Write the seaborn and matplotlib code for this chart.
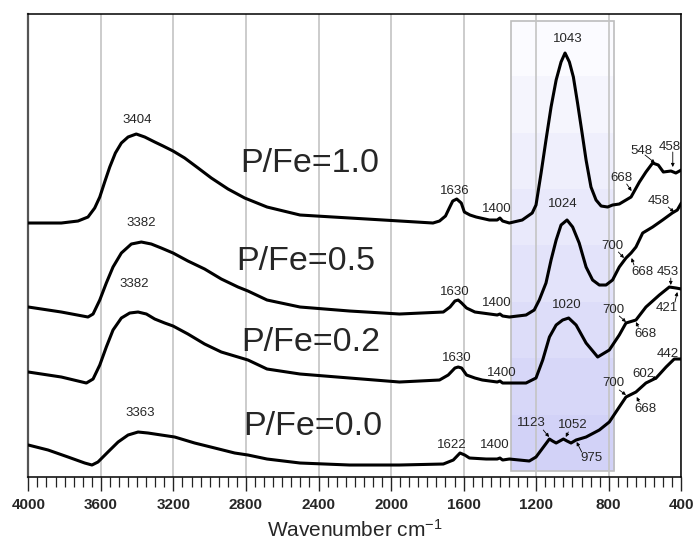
import numpy as np
import pandas as pd
import matplotlib
matplotlib.use("Agg")
import matplotlib.pyplot as plt
import matplotlib.patches as mpatches
import seaborn as sns

# ---------------- data ----------------
series_names = ["P/Fe=1.0", "P/Fe=0.5", "P/Fe=0.2", "P/Fe=0.0"]

wn_10 = [4000, 3818, 3726, 3671, 3634, 3606, 3579, 3551, 3520, 3487,
         3450, 3405, 3358, 3303, 3257, 3202, 3138, 3064, 2991, 2899,
         2807, 2684, 2502, 2320, 2134, 1951, 1769, 1733, 1700, 1679,
         1660, 1638, 1613, 1596, 1565, 1531, 1458, 1415, 1400, 1385,
         1348, 1277, 1222, 1201, 1194, 1173, 1146, 1118, 1090, 1063,
         1041, 1017, 995, 972, 947, 925, 898, 870, 842, 806,
         779, 742, 677, 631, 595, 558, 527, 499, 457, 430, 400]
abs_10 = [253, 253, 255, 259, 268, 279, 294, 309, 323, 333,
          339, 342, 339, 334, 330, 325, 318, 308, 298, 287,
          278, 269, 261, 259, 257, 255, 253, 255, 260, 268,
          275, 277, 273, 264, 261, 259, 256, 256, 258, 255,
          253, 256, 263, 271, 279, 303, 336, 369, 396, 414,
          423, 414, 399, 373, 343, 316, 289, 276, 270, 269,
          271, 272, 279, 294, 304, 313, 311, 304, 305, 303, 306]

wn_05 = [4000, 3818, 3671, 3643, 3606, 3570, 3533, 3487, 3432, 3377,
         3322, 3267, 3202, 3120, 3028, 2936, 2844, 2789, 2684, 2502,
         2229, 1954, 1712, 1675, 1648, 1630, 1611, 1584, 1538, 1497,
         1415, 1400, 1385, 1348, 1256, 1211, 1183, 1146, 1118, 1090,
         1063, 1030, 999, 963, 925, 889, 852, 815, 779, 742,
         705, 677, 650, 613, 558, 503, 450, 422, 400]
abs_05 = [169, 164, 159, 162, 176, 193, 209, 223, 232, 234,
          232, 228, 223, 215, 207, 197, 189, 185, 176, 169,
          165, 162, 164, 169, 175, 176, 173, 168, 164, 163,
          161, 162, 160, 159, 161, 166, 176, 193, 216, 236,
          251, 256, 249, 233, 209, 196, 191, 191, 196, 209,
          218, 223, 229, 243, 249, 256, 263, 266, 273]

wn_02 = [4000, 3818, 3680, 3643, 3606, 3570, 3533, 3487, 3441, 3395,
         3349, 3303, 3248, 3202, 3120, 3028, 2936, 2844, 2789, 2684,
         2502, 2229, 1954, 1733, 1685, 1648, 1630, 1611, 1584, 1538,
         1497, 1415, 1400, 1385, 1348, 1256, 1201, 1164, 1127, 1090,
         1054, 1021, 980, 925, 870, 861, 797, 742, 705, 650,
         595, 521, 466, 429, 400]
abs_02 = [104, 99, 93, 97, 111, 129, 146, 158, 163, 164,
          162, 157, 153, 150, 142, 132, 124, 119, 116, 107,
          102, 98, 94, 96, 101, 108, 109, 108, 101, 98,
          96, 94, 95, 93, 93, 93, 98, 116, 139, 151,
          156, 158, 151, 133, 121, 119, 126, 141, 153, 156,
          169, 181, 189, 188, 187]

wn_00 = [4000, 3891, 3781, 3689, 3649, 3616, 3561, 3505, 3450, 3395,
         3340, 3267, 3193, 3083, 2972, 2862, 2789, 2684, 2502, 2229,
         1954, 1712, 1657, 1620, 1594, 1568, 1476, 1415, 1400, 1385,
         1348, 1238, 1201, 1164, 1127, 1110, 1090, 1050, 1030, 1008,
         980, 925, 852, 797, 742, 705, 650, 595, 539, 484,
         439, 400]
abs_00 = [31, 26, 19, 13, 11, 14, 24, 34, 41, 44,
          43, 41, 39, 33, 28, 23, 21, 17, 13, 11,
          11, 12, 16, 23, 21, 18, 17, 17, 18, 16,
          17, 15, 19, 28, 37, 35, 33, 37, 35, 33,
          36, 39, 46, 54, 69, 79, 84, 93, 98, 109,
          117, 117]

# peak labels: text, wavenumber position, intensity position
peak_text = ["3404", "3382", "3382", "3363", "1043", "548", "458", "668", "1636", "1400",
             "1024", "458", "700", "668", "453", "1630", "1400", "1020", "700", "421",
             "668", "442", "1630", "1400", "602", "700", "668", "1123", "1052", "1622",
             "1400", "975"]
peak_x = [3402, 3375, 3417, 3384, 1026, 618, 462, 729, 1648, 1418,
          1051, 527, 780, 617, 476, 1648, 1418, 1032, 775, 481,
          600, 472, 1638, 1390, 610, 775, 600, 1225, 1001, 1666,
          1427, 894]
peak_y = [356, 253, 192, 63, 437, 325, 329, 298, 285, 267,
          272, 275, 230, 204, 204, 184, 173, 171, 166, 168,
          142, 122, 118, 103, 102, 93, 67, 53, 51, 31,
          31, 18]

# small arrows: tail (x, y) -> head (x, y)
arrow_x0 = [600, 447, 701, 472, 747, 661, 458, 435, 742, 637, 556, 742, 632, 1161, 1023, 949]
arrow_y0 = [321, 324, 292, 269, 224, 211, 198, 174, 160, 149, 99, 86, 74, 46, 44, 24]
arrow_x1 = [545, 447, 674, 440, 716, 674, 458, 422, 705, 650, 536, 705, 646, 1129, 1037, 977]
arrow_y1 = [313, 309, 285, 264, 218, 218, 191, 184, 154, 154, 96, 81, 79, 39, 39, 34]

# series name labels
name_x = [2833, 2851, 2824, 2815]
name_y = [313, 215, 134, 50]

xtick_values = [4000, 3600, 3200, 2800, 2400, 2000, 1600, 1200, 800, 400]
band_region = [1340, 769]   # shaded wavenumber window

# ---------------- build table ----------------
frames = []
for name, w, a in zip(series_names, [wn_10, wn_05, wn_02, wn_00],
                      [abs_10, abs_05, abs_02, abs_00]):
    frames.append(pd.DataFrame({"wn": w, "A": a, "sample": name}))
df = pd.concat(frames, ignore_index=True)

# ---------------- style ----------------
sns.set_style("white")
plt.rcParams["font.family"] = ["Liberation Sans", "DejaVu Sans"]
plt.rcParams["mathtext.default"] = "regular"

fig = plt.figure(figsize=(6.94, 5.42), dpi=100)
ax = fig.add_axes([0.0408, 0.1199, 0.9409, 0.8548])

# shaded window with banded gradient
ymin, ymax = -1, 462.3
rect_lo, rect_hi = 5.3, 455.3
nb = 8
top_c = np.array([251, 251, 255]) / 255
bot_c = np.array([210, 210, 247]) / 255
grad = np.array([top_c + (bot_c - top_c) * i / (nb - 1) for i in range(nb)]).reshape(nb, 1, 3)
ax.imshow(grad, extent=[band_region[0], band_region[1], rect_lo, rect_hi],
          origin="upper", aspect="auto", interpolation="nearest", zorder=0.2)
ax.add_patch(mpatches.Rectangle((band_region[1], rect_lo), band_region[0] - band_region[1],
                                rect_hi - rect_lo, fill=False, edgecolor="#bdbdbd",
                                lw=1.2, zorder=0.3))

sns.lineplot(data=df, x="wn", y="A", hue="sample", units="sample", estimator=None,
             palette=["black"] * 4, lw=2.2, legend=False, ax=ax, zorder=3)

ax.set_xlim(4000, 400)
ax.set_ylim(ymin, ymax)
ax.set_xticks(xtick_values, labels=[str(v) for v in xtick_values],
              fontweight="bold", fontsize=11)
ax.set_xticks(np.arange(400, 4001, 50), minor=True)
ax.set_yticks([])
ax.set_ylabel("")
ax.grid(axis="x", which="major", color="#c4c4c4", lw=1.2)
ax.set_axisbelow(True)
ax.tick_params(axis="x", which="major", length=9.9, width=1.0, direction="out",
               pad=5.5, color="#222222", bottom=True)
ax.tick_params(axis="x", which="minor", length=7, width=0.9, direction="out",
               color="#222222", bottom=True)
ax.set_xlabel("Wavenumber cm$^{-1}$", fontsize=15, labelpad=4.5)

for side in ["top", "right", "bottom", "left"]:
    ax.spines[side].set_visible(True)
    ax.spines[side].set_color("black")
    ax.spines[side].set_linewidth(1.1)
ax.spines["left"].set_color("#555555")
ax.spines["left"].set_linewidth(1.6)

# series names
for name, x, y in zip(series_names, name_x, name_y):
    ax.text(x, y, name, fontsize=24.5, ha="left", va="center", zorder=4)

# peak labels
for t, x, y in zip(peak_text, peak_x, peak_y):
    ax.text(x, y, t, fontsize=9.5, ha="center", va="center", zorder=4)

# arrows
for x0, y0, x1, y1 in zip(arrow_x0, arrow_y0, arrow_x1, arrow_y1):
    ax.annotate("", xy=(x1, y1), xytext=(x0, y0),
                arrowprops=dict(arrowstyle="-|>", lw=0.6, color="black",
                                mutation_scale=5, shrinkA=0, shrinkB=0), zorder=4)

fig.savefig("out.png", dpi=100)
